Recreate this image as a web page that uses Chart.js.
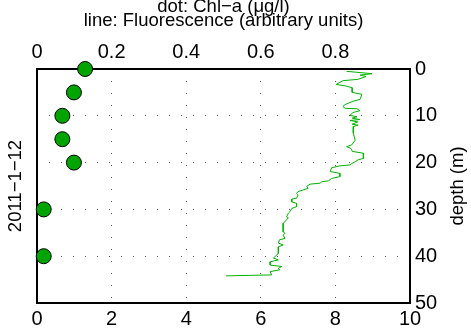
<!DOCTYPE html>
<html>
<head>
<meta charset="utf-8">
<script src="https://cdn.jsdelivr.net/npm/chart.js@4"></script>
<style>
  html, body { margin: 0; padding: 0; background: #fff; }
  #wrap { width: 471px; height: 336px; }
</style>
</head>
<body>
<div id="wrap"><canvas id="profile"></canvas></div>
<script>
// sample date shown on the left
const dateLabel = '2011\u22121\u221212';

// bottle samples: Chl-a (ug/l) against depth (m)
const chlDepth = [0, 5, 10, 15, 20, 30, 40];
const chlValue = [0.129, 0.099, 0.068, 0.068, 0.099, 0.018, 0.018];

// CTD fluorescence profile (arbitrary units) against depth (m)
const flDepth = [0.5, 1.0, 1.3, 1.6, 2.2, 2.5, 3.3, 3.6, 4.0, 5.0, 5.4, 6.5, 6.9, 7.6, 8.0, 8.4, 8.5, 8.9, 9.3, 9.9,
    10.2, 10.5, 10.8, 11.0, 11.3, 11.8, 12.0, 12.3, 13.7, 15.2, 16.2, 16.6, 16.9, 17.3, 17.6, 18.0, 19.1, 19.4, 19.8,
    20.2, 20.5, 20.7, 21.1, 21.9, 22.3, 23.0, 23.4, 23.9, 24.1, 24.4, 24.6, 25.1, 25.5, 26.2, 26.6, 26.9, 27.6, 27.8,
    28.4, 28.7, 29.4, 29.8, 30.5, 30.8, 31.6, 31.8, 33.0, 34.8, 35.1, 35.5, 36.2, 36.5, 37.2, 37.6, 38.0, 39.4, 40.1,
    40.4, 40.8, 41.2, 41.9, 42.2, 42.6, 42.9, 43.3, 44.0, 44.2];
const flValue = [8.30, 8.98, 8.66, 8.82, 8.61, 8.20, 8.02, 8.26, 8.45, 8.45, 8.71, 8.66, 8.47, 8.26, 8.20, 8.26, 8.58, 8.66, 8.47, 8.39,
    8.58, 8.45, 8.66, 8.39, 8.60, 8.45, 8.61, 8.48, 8.48, 8.53, 8.44, 8.30, 8.40, 8.44, 8.45, 8.75, 8.75, 8.61, 8.53,
    8.44, 8.39, 8.12, 7.90, 7.86, 8.12, 8.12, 7.90, 7.81, 7.63, 7.59, 7.32, 7.23, 7.27, 7.00, 6.96, 7.00, 6.96, 6.83,
    6.83, 6.96, 6.96, 6.83, 6.78, 6.74, 6.69, 6.74, 6.60, 6.60, 6.65, 6.60, 6.65, 6.50, 6.47, 6.60, 6.47, 6.47, 6.38,
    6.34, 6.47, 6.25, 6.25, 6.56, 6.47, 6.51, 6.25, 6.29, 5.07];

// axis ranges
const flTicks = [0, 2, 4, 6, 8, 10];
const chlTicks = [0, 0.2, 0.4, 0.6, 0.8];
const depthTicks = [0, 10, 20, 30, 40, 50];

const FONT = 'Liberation Sans, Arial, Helvetica, sans-serif';
const tickFont = { family: FONT, size: 20 };

// titles drawn by hand so they can sit like the matlab figure
const textPlugin = {
    id: 'sideText',
    afterDraw(chart) {
        const ctx = chart.ctx;
        const a = chart.chartArea;
        const midX = (a.left + a.right) / 2;
        const midY = (a.top + a.bottom) / 2;
        ctx.save();
        ctx.fillStyle = '#000';
        ctx.font = '18.5px ' + FONT;
        ctx.textAlign = 'center';
        ctx.textBaseline = 'alphabetic';
        ctx.fillText('dot: Chl\u2212a (\u03bcg/l)', midX, 12);
        ctx.fillText('line: Fluorescence (arbitrary units)', midX, 26);

        ctx.textBaseline = 'middle';
        ctx.translate(15.5, midY);
        ctx.rotate(-Math.PI / 2);
        ctx.fillText(dateLabel, 0, 0);
        ctx.restore();

        ctx.save();
        ctx.fillStyle = '#000';
        ctx.font = '18.5px ' + FONT;
        ctx.textAlign = 'center';
        ctx.textBaseline = 'middle';
        ctx.translate(458, midY);
        ctx.rotate(-Math.PI / 2);
        ctx.fillText('depth (m)', 0, 0);
        ctx.restore();
    }
};

const ctx = document.getElementById('profile');

new Chart(ctx, {
    type: 'scatter',
    data: {
        datasets: [{
            label: 'Fluorescence',
            data: flDepth.map((d, i) => ({ x: flValue[i], y: d })),
            xAxisID: 'x',
            yAxisID: 'y',
            showLine: true,
            borderColor: '#00b400',
            borderWidth: 1,
            pointRadius: 0,
            pointHoverRadius: 0,
            order: 2
        }, {
            label: 'Chl-a',
            data: chlDepth.map((d, i) => ({ x: chlValue[i], y: d })),
            xAxisID: 'xTop',
            yAxisID: 'y',
            backgroundColor: '#00a400',
            borderColor: '#000',
            borderWidth: 1,
            pointRadius: 7.5,
            pointHoverRadius: 7.5,
            order: 1,
            clip: false
        }]
    },
    options: {
        responsive: true,
        maintainAspectRatio: false,
        animation: false,
        events: [],
        layout: { padding: 0 },
        plugins: {
            legend: { display: false },
            tooltip: { enabled: false }
        },
        scales: {
            x: {
                type: 'linear',
                position: 'bottom',
                min: flTicks[0],
                max: flTicks[flTicks.length - 1],
                afterBuildTicks: s => { s.ticks = flTicks.map(v => ({ value: v })); },
                afterFit: s => { s.height = 33; },
                ticks: { font: tickFont, color: '#000', padding: 4, maxRotation: 0, autoSkip: false },
                grid: { display: true, color: '#555', lineWidth: 1, drawTicks: false },
                border: { display: true, color: '#000', width: 2, dash: [1, 11] }
            },
            xTop: {
                type: 'linear',
                position: 'top',
                min: 0,
                max: 1,
                afterBuildTicks: s => { s.ticks = chlTicks.map(v => ({ value: v })); },
                afterFit: s => { s.height = 69; },
                ticks: { font: tickFont, color: '#000', padding: 5, maxRotation: 0, autoSkip: false },
                grid: { display: false, drawTicks: false },
                border: { display: true, color: '#000', width: 2 }
            },
            y: {
                type: 'linear',
                position: 'right',
                reverse: true,
                min: depthTicks[0],
                max: depthTicks[depthTicks.length - 1],
                afterBuildTicks: s => { s.ticks = depthTicks.map(v => ({ value: v })); },
                afterFit: s => { s.width = 61; },
                ticks: { font: tickFont, color: '#000', padding: 5, autoSkip: false },
                grid: { display: true, color: '#555', lineWidth: 1, drawTicks: false },
                border: { display: true, color: '#000', width: 2, dash: [1, 11] }
            },
            yLeft: {
                type: 'linear',
                position: 'left',
                reverse: true,
                min: 0,
                max: 50,
                afterFit: s => { s.width = 37; },
                ticks: { display: false },
                grid: { display: false, drawTicks: false },
                border: { display: true, color: '#000', width: 2 }
            }
        }
    },
    plugins: [textPlugin]
});
</script>
</body>
</html>
